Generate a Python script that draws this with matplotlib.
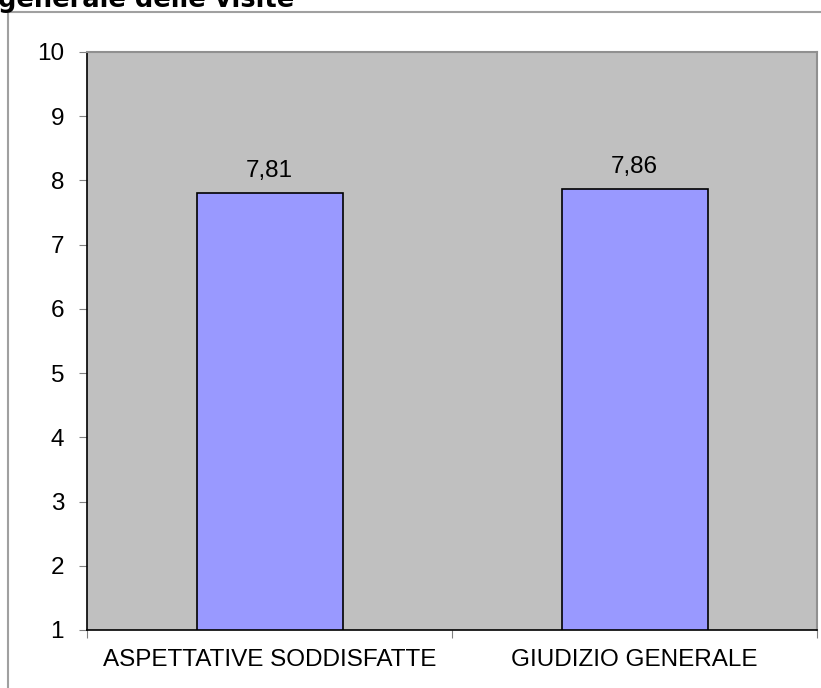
import matplotlib
matplotlib.use("Agg")
import matplotlib.pyplot as plt
from matplotlib.patches import Rectangle

# dati
categorie = ["ASPETTATIVE SODDISFATTE", "GIUDIZIO GENERALE"]
valori = [7.81, 7.86]
etichette = ["7,81", "7,86"]
y_ticks = [1, 2, 3, 4, 5, 6, 7, 8, 9, 10]

W, H = 821, 688
FS = 17.5
fig = plt.figure(figsize=(W / 100, H / 100), dpi=100)
fig.patch.set_facecolor("white")

# cornice esterna grigia (tagliata a destra e in basso)
fig.patches.append(Rectangle((8 / W, -0.2), 1.2, 1.2 - 12 / H,
                             transform=fig.transFigure, fill=False,
                             edgecolor="#a0a0a0", lw=1.5))

# titolo tagliato in alto
fig.text(-2 / W, 1 - 7 / H, "generale delle visite", fontsize=18.5,
         fontweight="bold", family="DejaVu Sans", va="baseline", ha="left")

ax = fig.add_axes([87 / W, 1 - 630 / H, 730 / W, 578 / H])
ax.set_facecolor("#c0c0c0")
x = range(len(categorie))
ax.bar(x, [v - 1 for v in valori], bottom=1, width=0.4, color="#9999ff",
       edgecolor="black", lw=1.2, zorder=3)
for i, (v, t) in enumerate(zip(valori, etichette)):
    ax.text(i, v + 0.25, t, ha="center", va="baseline", fontsize=FS,
            family="Liberation Sans")

ax.set_xlim(-0.5, 1.5)
ax.set_ylim(1, 10)
ax.set_yticks(y_ticks)
ax.set_yticklabels([str(t) for t in y_ticks], family="Liberation Sans", fontsize=FS)
ax.set_xticks([-0.5, 0.5, 1.5])
ax.set_xticklabels([])
ax.set_xticks(list(x), minor=True)
ax.set_xticklabels(categorie, minor=True, family="Liberation Sans", fontsize=FS)
ax.tick_params(axis="x", which="minor", length=0, pad=14)
ax.tick_params(axis="x", which="major", length=5.5, color="#808080")
ax.tick_params(axis="y", length=5.5, color="#808080", pad=11)

for s in ["left", "bottom"]:
    ax.spines[s].set_color("black")
    ax.spines[s].set_linewidth(1.2)
for s in ["top", "right"]:
    ax.spines[s].set_color("#909090")
    ax.spines[s].set_linewidth(1.5)

fig.savefig("out.png", dpi=100)
